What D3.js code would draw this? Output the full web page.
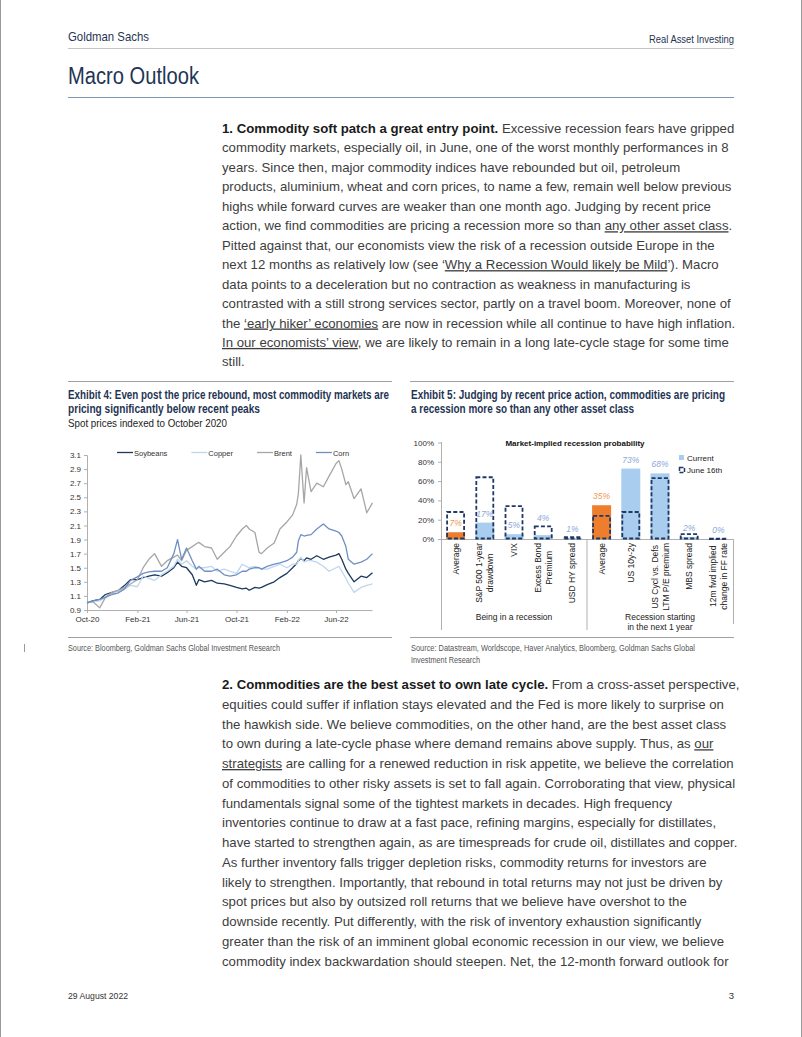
<!DOCTYPE html>
<html><head><meta charset="utf-8">
<script src="https://cdn.jsdelivr.net/npm/d3@7"></script>
<style>
body{margin:0;background:#fff;}
svg{display:block;}
text{white-space:pre;}
</style></head><body>
<svg id="page" width="802" height="1037"></svg>
<script>
// ---------------- DATA ----------------
const lineDates = [
"2020-10-01","2020-10-15","2020-11-01","2020-11-15","2020-12-01","2020-12-15",
"2021-01-01","2021-01-15","2021-02-01","2021-02-15","2021-03-01","2021-03-15",
"2021-04-01","2021-04-15","2021-05-01","2021-05-10","2021-05-20","2021-06-01",
"2021-06-15","2021-06-25","2021-07-01","2021-07-15","2021-08-01","2021-08-15",
"2021-09-01","2021-09-15","2021-10-01","2021-10-15","2021-10-25","2021-11-01",
"2021-11-15","2021-11-25","2021-12-01","2021-12-15",
"2022-01-01","2022-01-15","2022-02-01","2022-02-15","2022-02-25","2022-03-01",
"2022-03-07","2022-03-15","2022-03-21","2022-04-01","2022-04-15","2022-05-01",
"2022-05-15","2022-06-01","2022-06-08","2022-06-15","2022-06-25","2022-07-01",
"2022-07-15","2022-08-01","2022-08-15","2022-08-29"];
const soybeans = [1.00,1.03,1.05,1.12,1.15,1.17,
 1.25,1.33,1.33,1.36,1.38,1.40,1.38,1.43,1.50,1.58,1.52,1.50,1.40,1.25,1.33,1.30,1.32,1.28,1.27,1.25,1.22,1.20,1.21,1.18,1.22,1.21,1.22,1.26,
 1.30,1.36,1.42,1.50,1.56,1.60,1.63,1.60,1.64,1.62,1.67,1.62,1.65,1.68,1.70,1.62,1.48,1.42,1.30,1.38,1.36,1.43];
const copper = [1.00,1.02,1.03,1.08,1.13,1.17,
 1.20,1.25,1.23,1.38,1.35,1.32,1.40,1.45,1.52,1.62,1.55,1.60,1.52,1.48,1.50,1.50,1.52,1.45,1.48,1.45,1.42,1.55,1.52,1.50,1.52,1.50,1.48,1.48,
 1.52,1.55,1.50,1.55,1.55,1.60,1.65,1.58,1.60,1.60,1.58,1.52,1.45,1.50,1.52,1.45,1.35,1.28,1.15,1.22,1.25,1.27];
const brent = [1.00,1.02,0.93,1.08,1.15,1.18,
 1.22,1.27,1.33,1.50,1.62,1.70,1.52,1.60,1.65,1.68,1.60,1.75,1.80,1.84,1.86,1.80,1.78,1.62,1.72,1.80,1.95,2.05,2.10,2.05,2.00,1.72,1.70,1.78,
 1.85,2.05,2.15,2.25,2.40,2.55,3.10,2.42,2.92,2.58,2.70,2.65,2.80,2.98,3.02,2.90,2.68,2.72,2.48,2.62,2.28,2.42];
const corn = [1.00,1.03,1.05,1.08,1.12,1.14,
 1.20,1.32,1.37,1.42,1.44,1.45,1.45,1.50,1.70,1.90,1.62,1.78,1.60,1.48,1.52,1.45,1.45,1.48,1.40,1.38,1.40,1.45,1.45,1.48,1.50,1.50,1.48,1.52,
 1.55,1.57,1.60,1.65,1.72,1.88,1.97,1.95,1.96,1.97,2.05,2.12,2.05,2.02,2.00,1.95,1.80,1.62,1.55,1.58,1.62,1.70];
const lineSeriesNames = ["Soybeans","Copper","Brent","Corn"];
const lineYTicks = [0.9,1.1,1.3,1.5,1.7,1.9,2.1,2.3,2.5,2.7,2.9,3.1];
const lineXTickDates = ["2020-10-01","2021-02-01","2021-06-01","2021-10-01","2022-02-01","2022-06-01"];
const lineXTickLabels = ["Oct-20","Feb-21","Jun-21","Oct-21","Feb-22","Jun-22"];

const barCategories = ["Average","S&P 500 1-year\ndrawdown","VIX","Excess Bond\nPremium","USD HY spread",
  "Average ","US 10y-2y","US Cycl vs. Defs\nLTM P/E premium","MBS spread","12m fwd implied\nchange in FF rate"];
const barIsAverage = [true,false,false,false,false,true,false,false,false,false];
const barCurrent = [7,17,5,4,1,35,73,68,2,0];
const barJune16 = [28,64,34,13,2,24,28,63,5,0.4];
const barYTicks = [0,20,40,60,80,100];
const barGroupLabels = ["Being in a recession","Recession starting\nin the next 1 year"];
const barGroupSizes = [5,5];

// ---------------- PAGE ----------------
const svg = d3.select("#page");
const SANS = "'Liberation Sans',Arial,Helvetica,sans-serif";
const NAVY = "#1f3554";

svg.append("line").attr("x1",0.5).attr("x2",0.5).attr("y1",0).attr("y2",1037).attr("stroke","#9a9a9a");
svg.append("line").attr("x1",801.5).attr("x2",801.5).attr("y1",0).attr("y2",1037).attr("stroke","#9a9a9a");

// condensed-looking text: Liberation Sans squeezed to the reference width
function narrow(x,y,txt,size,bold,color,width,anchor){
  const t = svg.append("text").attr("y",y).attr("font-family",SANS).attr("font-size",size)
    .attr("font-weight",bold?"bold":"normal").attr("fill",color).text(txt)
    .attr("textLength",width).attr("lengthAdjust","spacingAndGlyphs");
  t.attr("x", anchor==="end" ? x-width : x);
  return t;
}
// header
narrow(68,41,"Goldman Sachs",13.5,false,NAVY,81);
narrow(734,43,"Real Asset Investing",11,false,NAVY,85,"end");
svg.append("line").attr("x1",68).attr("x2",734).attr("y1",48.5).attr("y2",48.5).attr("stroke","#c4c4c4");
narrow(68,84,"Macro Outlook",23,false,NAVY,131);
svg.append("line").attr("x1",68).attr("x2",734).attr("y1",97.5).attr("y2",97.5).attr("stroke","#7f97b3");

function richLine(g, x, y, str, size, color) {
  const t = g.append("text").attr("x",x).attr("y",y).attr("font-family",SANS).attr("font-size",size).attr("fill",color);
  str.split(/(\*\*[^*]+\*\*|__[^_]+__)/).filter(s=>s.length).forEach(seg=>{
    const ts = t.append("tspan");
    if (seg.startsWith("**")) ts.text(seg.slice(2,-2)).attr("font-weight","bold").attr("fill","#1a1a1a");
    else if (seg.startsWith("__")) ts.text(seg.slice(2,-2)).attr("text-decoration","underline");
    else ts.text(seg);
  });
  return t;
}
const para1 = [
"**1. Commodity soft patch a great entry point.** Excessive recession fears have gripped",
"commodity markets, especially oil, in June, one of the worst monthly performances in 8",
"years. Since then, major commodity indices have rebounded but oil, petroleum",
"products, aluminium, wheat and corn prices, to name a few, remain well below previous",
"highs while forward curves are weaker than one month ago. Judging by recent price",
"action, we find commodities are pricing a recession more so than __any other asset class__.",
"Pitted against that, our economists view the risk of a recession outside Europe in the",
"next 12 months as relatively low (see ‘__Why a Recession Would likely be Mild__’). Macro",
"data points to a deceleration but no contraction as weakness in manufacturing is",
"contrasted with a still strong services sector, partly on a travel boom. Moreover, none of",
"the __‘early hiker’ economies__ are now in recession while all continue to have high inflation.",
"__In our economists’ view__, we are likely to remain in a long late-cycle stage for some time",
"still."];
const para2 = [
"**2. Commodities are the best asset to own late cycle.** From a cross-asset perspective,",
"equities could suffer if inflation stays elevated and the Fed is more likely to surprise on",
"the hawkish side. We believe commodities, on the other hand, are the best asset class",
"to own during a late-cycle phase where demand remains above supply. Thus, as __our__",
"__strategists__ are calling for a renewed reduction in risk appetite, we believe the correlation",
"of commodities to other risky assets is set to fall again. Corroborating that view, physical",
"fundamentals signal some of the tightest markets in decades. High frequency",
"inventories continue to draw at a fast pace, refining margins, especially for distillates,",
"have started to strengthen again, as are timespreads for crude oil, distillates and copper.",
"As further inventory falls trigger depletion risks, commodity returns for investors are",
"likely to strengthen. Importantly, that rebound in total returns may not just be driven by",
"spot prices but also by outsized roll returns that we believe have overshot to the",
"downside recently. Put differently, with the risk of inventory exhaustion significantly",
"greater than the risk of an imminent global economic recession in our view, we believe",
"commodity index backwardation should steepen. Net, the 12-month forward outlook for"];
const body = svg.append("g");
para1.forEach((l,i)=>richLine(body,222,133+i*19.45,l,13.2,"#3d3d3d"));
para2.forEach((l,i)=>richLine(body,222,689+i*19.75,l,13.2,"#3d3d3d"));

// exhibit frames
[[68,392],[410,734]].forEach(([a,b])=>{
  svg.append("line").attr("x1",a).attr("x2",b).attr("y1",381.5).attr("y2",381.5).attr("stroke","#a0a0a0");
  svg.append("line").attr("x1",a).attr("x2",b).attr("y1",637.5).attr("y2",637.5).attr("stroke","#a0a0a0");
});
narrow(68,399,"Exhibit 4: Even post the price rebound, most commodity markets are",12,true,NAVY,321);
narrow(68,413,"pricing significantly below recent peaks",12,true,NAVY,192);
narrow(68,427,"Spot prices indexed to October 2020",11.5,false,"#222",159);
narrow(411,399,"Exhibit 5: Judging by recent price action, commodities are pricing",12,true,NAVY,314);
narrow(411,413,"a recession more so than any other asset class",12,true,NAVY,223);
narrow(68,651,"Source: Bloomberg, Goldman Sachs Global Investment Research",8.5,false,"#555",212);
narrow(411,651,"Source: Datastream, Worldscope, Haver Analytics, Bloomberg, Goldman Sachs Global",8.5,false,"#555",284);
narrow(411,663,"Investment Research",8.5,false,"#555",69);
svg.append("line").attr("x1",24.5).attr("x2",24.5).attr("y1",644).attr("y2",652).attr("stroke","#999");
narrow(68,999,"29 August 2022",9.5,false,"#333",60);
svg.append("text").attr("x",734).attr("y",999).attr("text-anchor","end").attr("font-family",SANS).attr("font-size",9.5).attr("fill","#333").text("3");

// ---------------- EXHIBIT 4: line chart ----------------
const parse = d3.timeParse("%Y-%m-%d");
const dts = lineDates.map(parse);
const x4 = d3.scaleTime().domain([parse("2020-10-01"), parse("2022-08-29")]).range([87, 372.5]);
const y4 = d3.scaleLinear().domain([0.9,3.1]).range([610,455]);
const g4 = svg.append("g");
const axisCol = "#b0b0b0";
const yAx4 = g4.append("g").attr("transform","translate(87,0)")
  .call(d3.axisLeft(y4).tickValues(lineYTicks).tickFormat(d3.format(".1f")).tickSize(3).tickPadding(3));
const xAx4 = g4.append("g").attr("transform","translate(0,610)")
  .call(d3.axisBottom(x4).tickValues(lineXTickDates.map(parse)).tickFormat((d,i)=>lineXTickLabels[i]).tickSize(3).tickPadding(3));
[yAx4,xAx4].forEach(a=>{
  a.select(".domain").attr("stroke",axisCol);
  a.selectAll(".tick line").attr("stroke",axisCol);
  a.selectAll("text").attr("font-family",SANS).attr("font-size",8).attr("fill","#333");
});
xAx4.select(".domain").attr("d","M87,0.5H372.5");
const seriesVals = [soybeans, copper, brent, corn];
const seriesCols = ["#1c3a5e","#bdd7ee","#a6a6a6","#6e8fc5"];
const lineGen = d3.line().x((d,i)=>x4(dts[i])).y(d=>y4(d));
seriesVals.forEach((vals,k)=>{
  g4.append("path").datum(vals).attr("d",lineGen).attr("fill","none")
    .attr("stroke",seriesCols[k]).attr("stroke-width",1.3).attr("stroke-linejoin","round");
});
// legend
let lx = 117;
lineSeriesNames.forEach((n,k)=>{
  g4.append("line").attr("x1",lx).attr("x2",lx+16).attr("y1",452.5).attr("y2",452.5).attr("stroke",seriesCols[k]).attr("stroke-width",1.3);
  const t = g4.append("text").attr("x",lx+17).attr("y",455.5).attr("font-family",SANS).attr("font-size",7.5).attr("fill","#333").text(n);
  lx += 17 + t.node().getComputedTextLength() + 24;
});

// ---------------- EXHIBIT 5: bar chart ----------------
const g5 = svg.append("g");
const x5 = d3.scaleBand().domain(barCategories).range([441,733]).paddingInner(0.35).paddingOuter(0.175);
const y5 = d3.scaleLinear().domain([0,100]).range([539,442.5]);
const yAx5 = g5.append("g").attr("transform","translate(441,0)")
  .call(d3.axisLeft(y5).tickValues(barYTicks).tickFormat(d=>d+"%").tickSize(3).tickPadding(4));
yAx5.select(".domain").remove();
yAx5.selectAll(".tick line").attr("stroke",axisCol);
yAx5.selectAll("text").attr("font-family",SANS).attr("font-size",8).attr("fill","#333");
g5.append("line").attr("x1",441.5).attr("x2",441.5).attr("y1",442).attr("y2",630).attr("stroke",axisCol);
g5.append("line").attr("x1",441).attr("x2",733).attr("y1",539.5).attr("y2",539.5).attr("stroke",axisCol);
const sepX = x5(barCategories[barGroupSizes[0]]) - x5.step()*x5.paddingInner()/2;
g5.append("line").attr("x1",sepX).attr("x2",sepX).attr("y1",539).attr("y2",630).attr("stroke",axisCol);
g5.append("line").attr("x1",733.5).attr("x2",733.5).attr("y1",539).attr("y2",624).attr("stroke",axisCol);

const ORANGE = "#ee7d2e", LBLUE = "#a8cdee", DASH = "#1f3864";
barCategories.forEach((c,i)=>{
  const bx = x5(c), bw = x5.bandwidth();
  g5.append("rect").attr("x",bx).attr("width",bw).attr("y",y5(barCurrent[i])).attr("height",y5(0)-y5(barCurrent[i]))
    .attr("fill",barIsAverage[i]?ORANGE:LBLUE);
});
barCategories.forEach((c,i)=>{
  const bx = x5(c), bw = x5.bandwidth();
  g5.append("rect").attr("x",bx+1).attr("width",bw-2).attr("y",y5(barJune16[i])).attr("height",Math.max(0.5,y5(0)-y5(barJune16[i])-0.5))
    .attr("fill","none").attr("stroke",DASH).attr("stroke-width",1.8).attr("stroke-dasharray","4,2.2");
});
barCategories.forEach((c,i)=>{
  const cx = x5(c)+x5.bandwidth()/2;
  let yc = y5(barCurrent[i]) - 9;
  const dTop = y5(barJune16[i]);
  if (Math.abs(yc - dTop) < 5) yc = dTop - 8;
  g5.append("text").attr("x",cx).attr("y",yc+3).attr("text-anchor","middle").attr("font-family",SANS)
    .attr("font-style","italic").attr("font-size",8.5).attr("fill",barIsAverage[i]?"#f19a55":"#8eaad8").text(barCurrent[i]+"%");
});
barCategories.forEach((c,i)=>{
  const cx = x5(c)+x5.bandwidth()/2;
  const lines = c.trim().split("\n");
  const gg = g5.append("g").attr("transform",`translate(${cx},543) rotate(-90)`);
  const ts = lines.map((l,j)=>gg.append("text").attr("font-family",SANS).attr("font-size",8.5).attr("fill","#222")
     .attr("text-anchor","middle").attr("y",(j-(lines.length-1)/2)*11+3).text(l));
  const maxW = d3.max(ts, t=>t.node().getComputedTextLength());
  ts.forEach(t=>t.attr("x",-maxW/2));
});
let start = 0;
barGroupLabels.forEach((lbl,k)=>{
  const a = x5(barCategories[start]) - x5.step()*x5.paddingInner()/2;
  const endIdx = start + barGroupSizes[k]-1;
  const b = x5(barCategories[endIdx]) + x5.bandwidth() + x5.step()*x5.paddingInner()/2;
  lbl.split("\n").forEach((l,j)=>{
    g5.append("text").attr("x",(Math.max(a,441)+Math.min(b,733))/2).attr("y",620+j*9.5).attr("text-anchor","middle")
      .attr("font-family",SANS).attr("font-size",8.5).attr("fill","#222").text(l);
  });
  start += barGroupSizes[k];
});
g5.append("text").attr("x",575).attr("y",446).attr("text-anchor","middle").attr("font-family",SANS).attr("font-weight","bold")
  .attr("font-size",8).attr("fill","#111").text("Market-implied recession probability");
g5.append("rect").attr("x",679).attr("y",455).attr("width",5).attr("height",5).attr("fill",LBLUE);
g5.append("text").attr("x",687).attr("y",461).attr("font-family",SANS).attr("font-size",8).attr("fill","#222").text("Current");
g5.append("rect").attr("x",679.5).attr("y",467.5).attr("width",5).attr("height",5).attr("fill","none").attr("stroke",DASH).attr("stroke-width",1.5).attr("stroke-dasharray","4,1.5");
g5.append("text").attr("x",687).attr("y",473).attr("font-family",SANS).attr("font-size",8).attr("fill","#222").text("June 16th");
</script>
</body></html>
